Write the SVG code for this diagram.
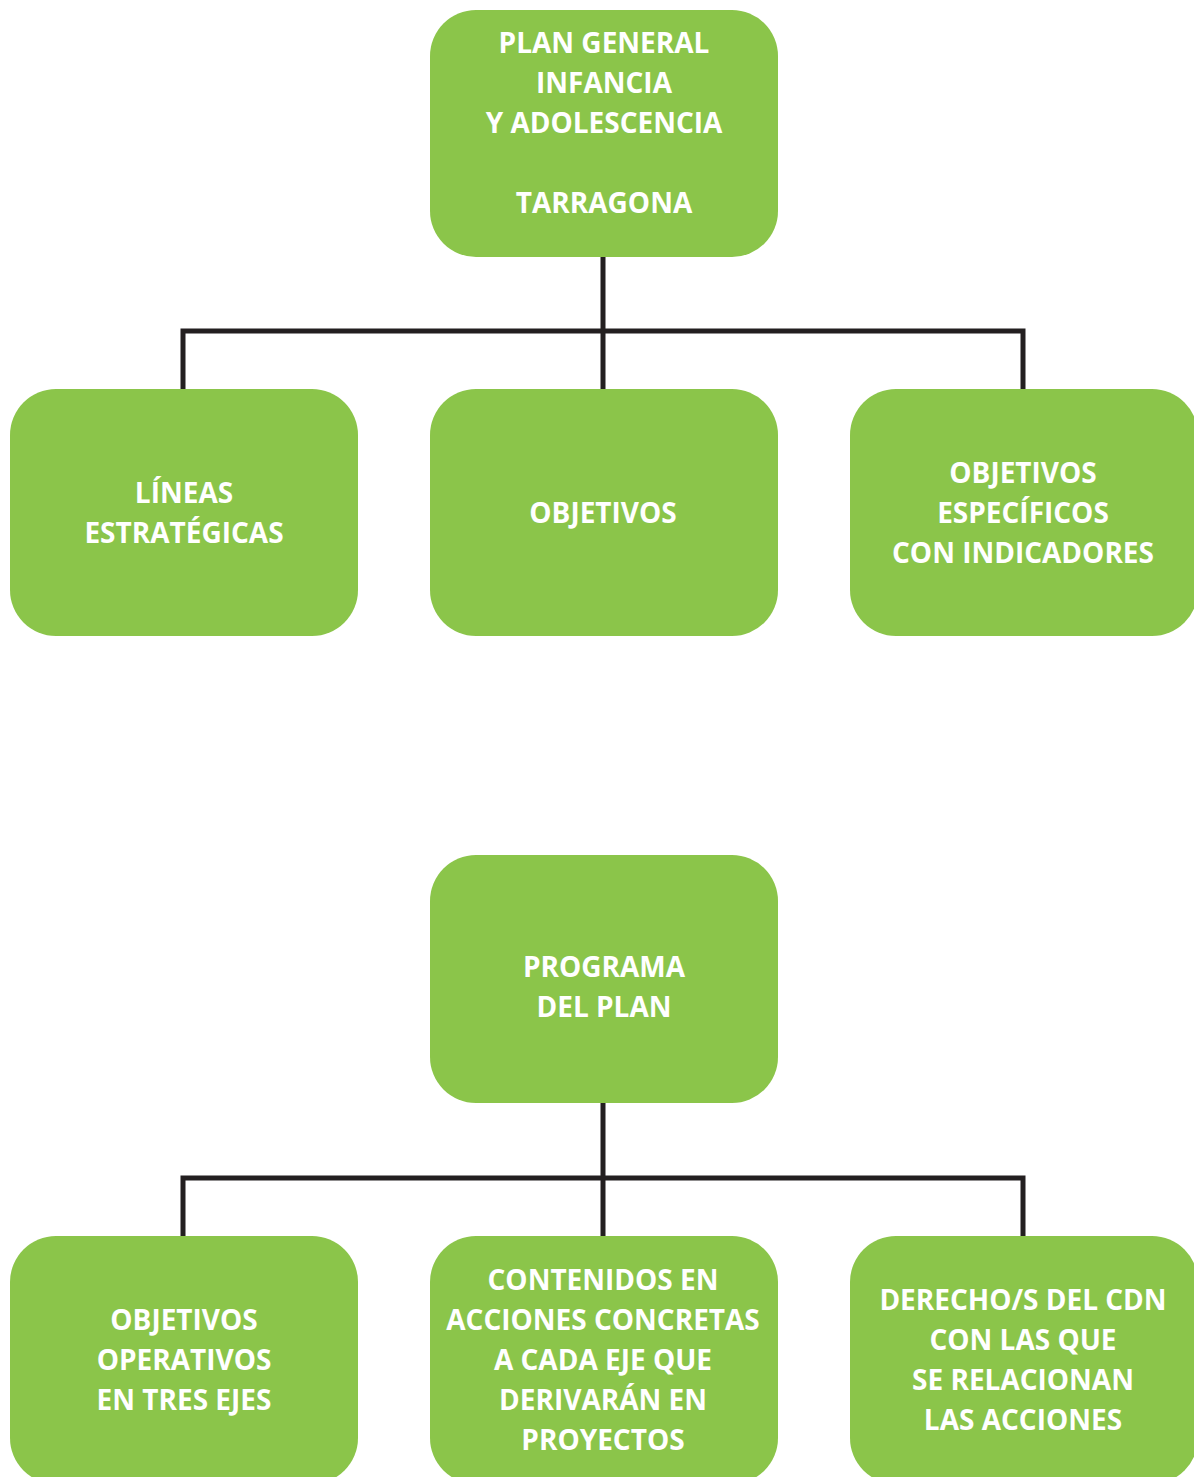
<svg xmlns="http://www.w3.org/2000/svg" width="1194" height="1477" viewBox="0 0 1194 1477">
<style>
.box{fill:#8bc54a}
.t{fill:#fff;font-family:"Open Sans","Liberation Sans",sans-serif;font-weight:bold;font-size:28px;text-anchor:middle}
.c{fill:none;stroke:#231f20;stroke-width:5}
</style>
<rect width="1194" height="1477" fill="#fff"/>
<g id="connectors">
<path class="c" d="M603 257V389M183 389V331H1023V389"/>
<path class="c" d="M603 1103V1236M183 1236V1178H1023V1236"/>
</g>
<g id="plan-general">
<rect class="box" x="430" y="10" width="348" height="247" rx="46"/>
<text class="t"><tspan x="604" y="53">PLAN GENERAL</tspan><tspan x="604" y="93">INFANCIA</tspan><tspan x="604" y="133">Y ADOLESCENCIA</tspan><tspan x="604" y="213">TARRAGONA</tspan></text>
</g>
<g id="lineas">
<rect class="box" x="10" y="389" width="348" height="247" rx="46"/>
<text class="t"><tspan x="184" y="503">LÍNEAS</tspan><tspan x="184" y="543">ESTRATÉGICAS</tspan></text>
</g>
<g id="objetivos">
<rect class="box" x="430" y="389" width="348" height="247" rx="46"/>
<text class="t"><tspan x="603" y="523">OBJETIVOS</tspan></text>
</g>
<g id="objetivos-especificos">
<rect class="box" x="850" y="389" width="348" height="247" rx="46"/>
<text class="t"><tspan x="1023" y="483">OBJETIVOS</tspan><tspan x="1023" y="523">ESPECÍFICOS</tspan><tspan x="1023" y="563">CON INDICADORES</tspan></text>
</g>
<g id="programa">
<rect class="box" x="430" y="855" width="348" height="248" rx="46"/>
<text class="t"><tspan x="604" y="977">PROGRAMA</tspan><tspan x="604" y="1017">DEL PLAN</tspan></text>
</g>
<g id="operativos">
<rect class="box" x="10" y="1236" width="348" height="248" rx="46"/>
<text class="t"><tspan x="184" y="1330">OBJETIVOS</tspan><tspan x="184" y="1370">OPERATIVOS</tspan><tspan x="184" y="1410">EN TRES EJES</tspan></text>
</g>
<g id="contenidos">
<rect class="box" x="430" y="1236" width="348" height="248" rx="46"/>
<text class="t"><tspan x="603" y="1290">CONTENIDOS EN</tspan><tspan x="603" y="1330">ACCIONES CONCRETAS</tspan><tspan x="603" y="1370">A CADA EJE QUE</tspan><tspan x="603" y="1410">DERIVARÁN EN</tspan><tspan x="603" y="1450">PROYECTOS</tspan></text>
</g>
<g id="derechos">
<rect class="box" x="850" y="1236" width="348" height="248" rx="46"/>
<text class="t"><tspan x="1023" y="1310">DERECHO/S DEL CDN</tspan><tspan x="1023" y="1350">CON LAS QUE</tspan><tspan x="1023" y="1390">SE RELACIONAN</tspan><tspan x="1023" y="1430">LAS ACCIONES</tspan></text>
</g>
</svg>
